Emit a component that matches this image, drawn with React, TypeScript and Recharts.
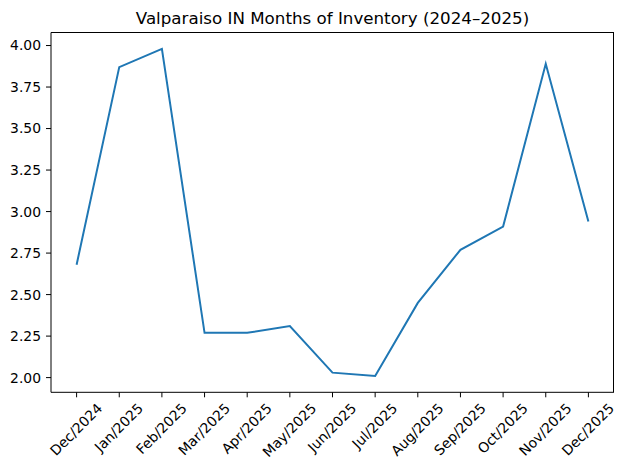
import React from "react";
import { LineChart, Line, XAxis, YAxis } from "recharts";

const months = [
  "Dec/2024", "Jan/2025", "Feb/2025", "Mar/2025", "Apr/2025", "May/2025", "Jun/2025",
  "Jul/2025", "Aug/2025", "Sep/2025", "Oct/2025", "Nov/2025", "Dec/2025",
];
const inventory = [2.68, 3.87, 3.98, 2.27, 2.27, 2.31, 2.03, 2.01, 2.45, 2.77, 2.91, 3.89, 2.94];
const yTicks = [2.0, 2.25, 2.5, 2.75, 3.0, 3.25, 3.5, 3.75, 4.0];

const data = months.map((m, i) => ({ month: m, value: inventory[i] }));

// matplotlib style 5% margins on the y range
const lo = Math.min(...inventory);
const hi = Math.max(...inventory);
const yDomain = [lo - (hi - lo) * 0.05, hi + (hi - lo) * 0.05];

const FONT = '"DejaVu Sans", sans-serif';
const TICK_PX = 13.9;

let ctx: CanvasRenderingContext2D | null = null;
const textWidth = (s: string) => {
  if (!ctx) ctx = document.createElement("canvas").getContext("2d");
  if (!ctx) return s.length * 8.4;
  ctx.font = `${TICK_PX}px "DejaVu Sans"`;
  return ctx.measureText(s).width;
};

// rotated 45deg label, centred on the tick like matplotlib's rotation=45
const XTick = (props: any) => {
  const { x, y, payload } = props;
  const label = String(payload.value);
  const L = textWidth(label);
  const ax = x + 0.354 * L + 3;
  const ay = y + 4.9 + 7.1;
  return (
    <text
      x={ax}
      y={ay}
      textAnchor="end"
      fill="#000"
      fontSize={TICK_PX}
      fontFamily={FONT}
      transform={`rotate(-45 ${ax} ${ay})`}
    >
      {label}
    </text>
  );
};

export default function App() {
  return (
    <div style={{ position: "absolute", left: 0, top: 0, width: 626, height: 470, background: "#fff" }}>
      <div
        style={{
          position: "absolute",
          left: 51,
          width: 563,
          top: 8,
          textAlign: "center",
          fontFamily: FONT,
          fontSize: 16.7,
          color: "#000",
          whiteSpace: "nowrap",
        }}
      >
        Valparaiso IN Months of Inventory (2024–2025)
      </div>
      <LineChart
        width={626}
        height={470}
        data={data}
        margin={{ top: 32.5, right: 12, left: 0, bottom: 0 }}
      >
        <XAxis
          dataKey="month"
          height={77.7}
          padding={{ left: 25.6, right: 25.6 }}
          interval={0}
          tickSize={5}
          tickMargin={0}
          axisLine={{ stroke: "#000", strokeWidth: 1 }}
          tickLine={{ stroke: "#000", strokeWidth: 1 }}
          tick={XTick}
        />
        <YAxis
          width={51}
          domain={yDomain}
          ticks={yTicks}
          allowDataOverflow
          tickSize={5}
          tickMargin={5}
          tickFormatter={(v: number) => v.toFixed(2)}
          axisLine={{ stroke: "#000", strokeWidth: 1 }}
          tickLine={{ stroke: "#000", strokeWidth: 1 }}
          tick={{ fill: "#000", fontSize: TICK_PX, fontFamily: FONT }}
        />
        <Line
          type="linear"
          dataKey="value"
          stroke="#1f77b4"
          strokeWidth={2}
          dot={false}
          activeDot={false}
          isAnimationActive={false}
        />
      </LineChart>
      {/* top and right spines of the axes box */}
      <div
        style={{
          position: "absolute",
          left: 51,
          top: 32,
          width: 563,
          height: 360,
          boxSizing: "border-box",
          borderTop: "1px solid #000",
          borderRight: "1px solid #000",
          pointerEvents: "none",
        }}
      />
    </div>
  );
}
